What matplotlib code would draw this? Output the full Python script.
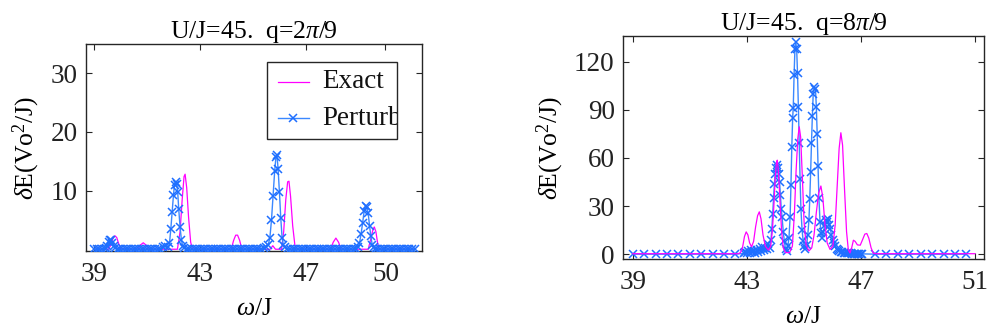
import matplotlib
matplotlib.use("Agg")
import matplotlib.pyplot as plt
from matplotlib.patches import Rectangle
from matplotlib.lines import Line2D

plt.rcParams['font.family'] = ['Liberation Serif', 'DejaVu Serif']
plt.rcParams['mathtext.fontset'] = 'custom'
plt.rcParams['mathtext.rm'] = 'Liberation Serif'
plt.rcParams['mathtext.it'] = 'Liberation Serif:italic'

# ---------------- data: left panel (q = 2pi/9) ----------------
left_exact_w = [39.0, 39.55, 39.65, 39.72, 39.79, 39.86, 39.93, 40.02, 40.65, 40.75, 40.86, 40.97, 41.07,
                42.15, 42.25, 42.33, 42.4, 42.44, 42.5, 42.57, 42.65, 42.72, 44.18, 44.27, 44.35, 44.42,
                44.5, 44.58, 45.65, 45.75, 45.85, 46.08, 46.16, 46.24, 46.31, 46.36, 46.42, 46.5, 46.58,
                46.65, 47.93, 48.03, 48.13, 48.23, 48.33, 49.35, 49.45, 49.53, 49.58, 49.64, 49.7, 49.76, 51.1]
left_exact_e = [0.0, 0.0, 0.8, 1.9, 2.3, 2.0, 1.0, 0.1, 0.0, 0.7, 1.1, 0.7, 0.0,
                0.0, 3.0, 8.5, 12.4, 12.8, 10.5, 5.5, 1.2, 0.0, 0.0, 1.5, 2.4, 2.4,
                1.5, 0.0, 0.0, 0.6, 0.0, 0.0, 3.0, 8.5, 11.5, 11.6, 9.0, 4.0, 0.8,
                0.0, 0.0, 1.2, 1.9, 1.2, 0.0, 0.0, 1.8, 3.4, 3.8, 3.0, 1.2, 0.0, 0.0]

left_pert_w = [39.0, 39.1, 39.2, 39.3, 39.4, 39.45, 39.5, 39.55, 39.6, 39.65, 39.7, 39.75, 39.8, 39.9,
               40.0, 40.1, 40.2, 40.3, 40.4, 40.5, 40.6, 40.7, 40.8, 40.9, 41.0, 41.1, 41.2, 41.3, 41.4,
               41.5, 41.6, 41.7, 41.8, 41.85, 41.9, 41.95, 42.0, 42.04, 42.08, 42.12, 42.16, 42.2, 42.25,
               42.3, 42.35, 42.4, 42.5, 42.6, 42.7, 42.8, 42.9, 43.0, 43.1, 43.2, 43.3, 43.4, 43.5, 43.6,
               43.7, 43.8, 43.9, 44.0, 44.1, 44.2, 44.3, 44.4, 44.5, 44.6, 44.7, 44.8, 44.9, 45.0, 45.1,
               45.2, 45.3, 45.4, 45.5, 45.58, 45.64, 45.7, 45.76, 45.82, 45.87, 45.91, 45.95, 46.0, 46.05,
               46.1, 46.15, 46.22, 46.3, 46.4, 46.5, 46.6, 46.7, 46.8, 46.9, 47.0, 47.1, 47.2, 47.3, 47.4,
               47.5, 47.6, 47.7, 47.8, 47.9, 48.0, 48.1, 48.2, 48.3, 48.4, 48.5, 48.6, 48.7, 48.8, 48.9,
               48.95, 49.02, 49.08, 49.14, 49.2, 49.25, 49.3, 49.35, 49.4, 49.45, 49.5, 49.56, 49.6, 49.7,
               49.8, 49.9, 50.0, 50.1, 50.2, 50.3, 50.4, 50.5, 50.6, 50.7, 50.8, 50.9, 51.0, 51.1]
left_pert_e = [0.0, 0.0, 0.0, 0.0, 0.1, 0.2, 0.6, 1.2, 1.6, 1.5, 1.0, 0.5, 0.2, 0.0,
               0.0, 0.0, 0.0, 0.0, 0.0, 0.0, 0.0, 0.0, 0.0, 0.0, 0.0, 0.0, 0.0, 0.0, 0.0,
               0.1, 0.4, 0.5, 0.3, 1.0, 3.4, 6.4, 9.2, 11.0, 11.4, 11.2, 9.8, 6.8, 3.8,
               1.6, 0.5, 0.2, 0.0, 0.0, 0.0, 0.0, 0.0, 0.0, 0.0, 0.0, 0.0, 0.0, 0.0, 0.0,
               0.0, 0.0, 0.0, 0.0, 0.0, 0.0, 0.0, 0.0, 0.0, 0.0, 0.0, 0.0, 0.0, 0.0, 0.0,
               0.0, 0.1, 0.2, 0.3, 0.8, 2.0, 5.0, 9.1, 13.3, 15.8, 16.0, 13.6, 9.7, 5.3,
               2.0, 0.7, 0.3, 0.1, 0.0, 0.0, 0.0, 0.0, 0.0, 0.0, 0.0, 0.0, 0.0, 0.0, 0.0,
               0.0, 0.0, 0.0, 0.0, 0.0, 0.0, 0.0, 0.0, 0.0, 0.0, 0.0, 0.0, 0.0, 0.0, 0.1,
               0.3, 1.0, 2.6, 4.5, 6.6, 7.4, 7.2, 6.1, 4.0, 2.2, 0.8, 0.3, 0.1, 0.0,
               0.0, 0.0, 0.0, 0.0, 0.0, 0.0, 0.0, 0.0, 0.0, 0.0, 0.0, 0.0, 0.0, 0.0]

# ---------------- data: right panel (q = 8pi/9) ----------------
right_exact_w = [39.0, 42.7, 42.78, 42.85, 42.92, 42.98, 43.04, 43.1, 43.17, 43.24, 43.31, 43.38, 43.44,
                 43.5, 43.57, 43.65, 43.76, 43.84, 43.9, 43.95, 44.0, 44.04, 44.07, 44.11, 44.16, 44.22,
                 44.28, 44.36, 44.5, 44.6, 44.67, 44.73, 44.79, 44.84, 44.89, 44.95, 45.01, 45.08, 45.18,
                 45.28, 45.36, 45.44, 45.52, 45.6, 45.67, 45.74, 45.82, 45.92, 46.02, 46.1, 46.17, 46.24,
                 46.3, 46.36, 46.43, 46.5, 46.56, 46.62, 46.68, 46.74, 46.8, 46.88, 46.98, 47.06, 47.14,
                 47.21, 47.28, 47.36, 47.44, 47.6, 51.0]
right_exact_e = [0.3, 0.3, 1.0, 4.0, 11.0, 13.9, 12.0, 7.0, 4.6, 8.0, 17.0, 24.0, 26.4,
                 22.0, 12.0, 5.0, 2.5, 5.0, 15.0, 30.0, 48.0, 57.0, 58.6, 52.0, 35.0, 15.0,
                 4.0, 1.0, 1.0, 5.0, 25.0, 52.0, 72.0, 79.4, 73.0, 48.0, 20.0, 6.0, 2.0,
                 4.0, 12.0, 26.0, 38.0, 42.5, 35.0, 19.0, 7.0, 3.0, 5.0, 18.0, 42.0, 66.0,
                 75.7, 68.0, 40.0, 14.0, 3.0, 0.8, 4.0, 8.7, 8.0, 5.8, 5.6, 9.0, 12.5,
                 12.9, 10.0, 4.0, 0.5, 0.3, 0.3]

right_pert_w = [39.0, 39.4, 39.8, 40.2, 40.6, 41.0, 41.4, 41.8, 42.2, 42.6,
                42.9, 42.95, 43.0, 43.05, 43.1, 43.15, 43.2, 43.25, 43.3, 43.35, 43.4, 43.45, 43.5,
                43.55, 43.6, 43.65, 43.7, 43.75, 43.8, 43.85,
                43.88, 43.91, 43.94, 43.97, 44.0, 44.03, 44.06, 44.09, 44.12, 44.15, 44.18, 44.21,
                44.24, 44.28, 44.32, 44.36, 44.4,
                44.44, 44.48, 44.52, 44.55, 44.58, 44.61, 44.63, 44.66, 44.69, 44.72, 44.75, 44.78,
                44.81, 44.84, 44.87, 44.9, 44.94, 44.98, 45.02, 45.06,
                45.1, 45.14, 45.18, 45.21, 45.24, 45.27, 45.3, 45.33, 45.37, 45.41, 45.44, 45.47,
                45.5, 45.53, 45.57, 45.61, 45.65,
                45.69, 45.73, 45.77, 45.81, 45.85, 45.89, 45.93, 45.97, 46.01, 46.05, 46.1, 46.15,
                46.2, 46.25, 46.3, 46.35, 46.4, 46.45, 46.5, 46.55, 46.6, 46.65, 46.7, 46.75, 46.8,
                46.85, 46.9, 46.95, 47.0, 47.05,
                47.5, 47.9, 48.3, 48.7, 49.1, 49.5, 49.9, 50.3, 50.7]
right_pert_e = [0.0, 0.0, 0.0, 0.0, 0.0, 0.0, 0.0, 0.0, 0.0, 0.0,
                0.5, 1.5, 0.8, 2.0, 1.0, 2.5, 1.2, 2.0, 1.0, 2.8, 1.5, 3.5, 2.0,
                4.5, 2.5, 4.0, 3.0, 6.5, 4.0, 9.0,
                16.0, 25.0, 35.0, 44.0, 50.0, 54.0, 55.5, 54.0, 50.0, 45.0, 37.0, 28.0,
                23.0, 14.0, 8.0, 3.0, 2.0,
                5.0, 10.0, 23.0, 43.0, 67.0, 85.0, 91.0, 112.0, 128.0, 132.0, 128.0, 113.0,
                92.0, 69.0, 47.0, 28.0, 15.0, 8.0, 5.0, 3.0,
                6.0, 12.0, 21.0, 34.5, 51.0, 69.0, 86.0, 99.6, 104.0, 103.0, 92.0, 75.0,
                55.0, 35.0, 20.0, 13.0, 10.0,
                14.0, 18.0, 21.0, 20.0, 22.0, 18.0, 16.0, 12.0, 9.0, 7.0, 5.0, 3.5,
                2.5, 2.0, 1.5, 1.2, 1.0, 0.8, 0.7, 0.6, 0.5, 0.5, 0.4, 0.4, 0.3,
                0.3, 0.3, 0.2, 0.2, 0.2,
                0.0, 0.0, 0.0, 0.0, 0.0, 0.0, 0.0, 0.0, 0.0]

left_xticks = [39, 43, 47, 50]
left_yticks = [10, 20, 30]
right_xticks = [39, 43, 47, 51]
right_yticks = [0, 30, 60, 90, 120]
legend_labels = ['Exact', 'Perturb']

MAG = '#ff00ff'
BLU = '#1f6fff'
BLU_LINE = '#3b88ff'
FRAME = '#262626'
TICK_FS = 19.5
LABEL_FS = 18.5
TITLE_FS = 18.5
MS = 6
MEW = 1.1

fig = plt.figure(figsize=(9.92, 3.32), dpi=100)
axL = fig.add_axes([86/992, 1-251/332, 336/992, 207/332])
axR = fig.add_axes([623/992, 1-259/332, 361/992, 223/332])

def style(ax):
    for s in ax.spines.values():
        s.set_color(FRAME)
        s.set_linewidth(1.0)
    ax.tick_params(direction='in', length=4, width=0.8, colors=FRAME,
                   top=True, right=True, labelsize=TICK_FS, labelcolor='#222222')
    ax.tick_params(axis='x', pad=8)
    ax.tick_params(axis='y', pad=6)

# left
axL.plot(left_exact_w, left_exact_e, color=MAG, lw=0.9, zorder=2)
axL.plot(left_pert_w, left_pert_e, color=BLU_LINE, lw=1.0, marker='x', ms=MS,
         mew=MEW, mec=BLU, zorder=3)
axL.set_xlim(38.7, 51.38)
axL.set_ylim(-0.3, 35)
axL.set_xticks(left_xticks)
axL.set_yticks(left_yticks)
style(axL)
axL.set_title('U/J=45.  q=2$\\mathit{\\pi}$/9', fontsize=TITLE_FS, pad=4)
axL.set_xlabel('$\\mathit{\\omega}$/J', fontsize=LABEL_FS, labelpad=8)
axL.set_ylabel('$\\mathit{\\delta}$E(Vo$^2$/J)', fontsize=LABEL_FS, labelpad=6)

# manual (clipped) legend
tr = axL.transAxes
rect = Rectangle((0.538, 0.54), 0.3885, 0.3745, transform=tr, facecolor='white',
                 edgecolor=FRAME, lw=1.0, zorder=5)
axL.add_patch(rect)
axL.add_line(Line2D([0.572, 0.664], [0.818, 0.818], transform=tr, color=MAG, lw=0.9, zorder=6))
axL.add_line(Line2D([0.572, 0.664], [0.641, 0.641], transform=tr, color=BLU_LINE, lw=1.0, zorder=6))
axL.add_line(Line2D([0.617], [0.641], transform=tr, color=BLU, marker='x', ms=MS, mew=MEW,
                    ls='none', zorder=6))
for lbl, yy in zip(legend_labels, [0.818, 0.641]):
    t = axL.text(0.704, yy, lbl, transform=tr, fontsize=TICK_FS, va='center', ha='left',
                 color='#111111', zorder=7, clip_on=True)
    t.set_clip_path(rect)

# right
axR.plot(right_pert_w, right_pert_e, color=BLU_LINE, lw=1.0, marker='x', ms=MS,
         mew=MEW, mec=BLU, zorder=2)
axR.plot(right_exact_w, right_exact_e, color=MAG, lw=0.9, zorder=3)
axR.set_xlim(38.66, 51.32)
axR.set_ylim(-3, 136)
axR.set_xticks(right_xticks)
axR.set_yticks(right_yticks)
style(axR)
axR.set_title('U/J=45.  q=8$\\mathit{\\pi}$/9', fontsize=TITLE_FS, pad=4)
axR.set_xlabel('$\\mathit{\\omega}$/J', fontsize=LABEL_FS, labelpad=8)
axR.set_ylabel('$\\mathit{\\delta}$E(Vo$^2$/J)', fontsize=LABEL_FS, labelpad=6)

fig.savefig('out.png', dpi=100)
